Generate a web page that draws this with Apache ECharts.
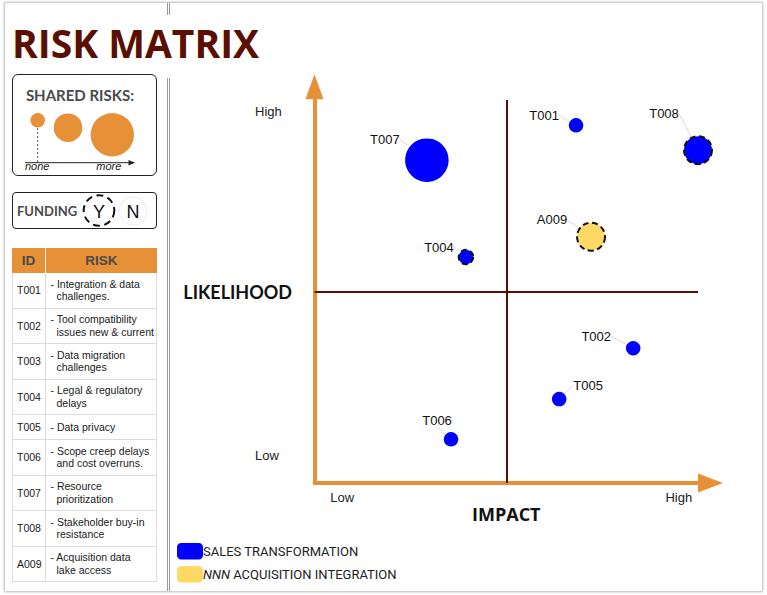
<!DOCTYPE html>
<html>
<head>
<meta charset="utf-8">
<script src="https://cdn.jsdelivr.net/npm/echarts@6/dist/echarts.min.js"></script>
<style>
html,body{margin:0;padding:0;background:#fff;}
#wrap{position:relative;width:767px;height:595px;overflow:hidden;background:#fff;}
.card{position:absolute;left:5px;top:3px;width:757px;height:588px;background:#fff;box-shadow:0 0 2px 1px rgba(0,0,0,0.28);}
.vline{position:absolute;left:167px;width:1px;border-left:1px solid #9a9a9a;border-right:1px solid #9a9a9a;}
#chart{position:absolute;left:0;top:0;width:767px;height:595px;}
.title{position:absolute;left:12px;top:22.5px;font:700 39px/39px 'Open Sans',sans-serif;color:#5b0f00;white-space:nowrap;}
.box{position:absolute;left:12px;width:145px;box-sizing:border-box;border:1px solid #222;border-radius:6px;}
.lbl{position:absolute;white-space:nowrap;font-family:Lato,sans-serif;font-weight:700;color:#4a4a4a;}
#panel{position:absolute;left:0;top:0;width:170px;height:595px;}
#tbl{position:absolute;left:12px;top:248px;width:145px;font-family:'Liberation Sans',Arial,sans-serif;}
.row{position:absolute;left:0;width:145px;display:flex;box-sizing:border-box;}
.cid{width:34px;box-sizing:border-box;display:flex;align-items:center;}
.crisk{width:111px;box-sizing:border-box;display:flex;align-items:center;}
.hdr{background:#e69138;color:#4a4a4a;font-weight:700;font-size:13.5px;}
.hdr .cid{justify-content:center;border-right:1px solid #fff;}
.hdr .crisk{justify-content:center;}
.body .cid{border-left:1px solid #dcdcdc;border-right:1px solid #dcdcdc;border-bottom:1px solid #dcdcdc;padding-left:4px;font-size:10.5px;color:#1a1a1a;}
.body .crisk{border-right:1px solid #dcdcdc;border-bottom:1px solid #dcdcdc;font-size:10.5px;color:#1a1a1a;}
.txt{white-space:pre;padding-left:10.5px;text-indent:-6px;line-height:12.7px;}
</style>
</head>
<body>
<div id="wrap">
  <div class="card"></div>
  <div class="vline" style="top:3px;height:12px;"></div>
  <div class="vline" style="top:78px;height:513px;"></div>
  <div id="chart"></div>
  <div id="panel">
    <div class="title">RISK MATRIX</div>
    <div class="box" style="top:74px;height:102px;"></div>
    <div class="lbl" style="left:0;width:160px;text-align:center;top:88px;font-size:15px;line-height:15px;">SHARED RISKS:</div>
    <div class="box" style="top:192px;height:37px;border-radius:4px;"></div>
    <div class="lbl" style="left:17px;top:204.5px;font-size:13px;line-height:13px;">FUNDING</div>
    <svg width="170" height="595" style="position:absolute;left:0;top:0;">
      <circle cx="37.7" cy="120.3" r="7.3" fill="#e69138"/>
      <circle cx="68" cy="127.7" r="14.3" fill="#e69138"/>
      <circle cx="112.3" cy="134.7" r="21.7" fill="#e69138"/>
      <line x1="37.7" y1="128" x2="37.7" y2="162.7" stroke="#555" stroke-width="1" stroke-dasharray="2 2"/>
      <line x1="25" y1="162.7" x2="131" y2="162.7" stroke="#222" stroke-width="1"/>
      <polygon points="128.5,160 135,162.7 128.5,165.4" fill="#222"/>
      <text x="25" y="170" font-family="Liberation Sans, Arial" font-style="italic" font-size="11" fill="#222">none</text>
      <text x="96.3" y="170" font-family="Liberation Sans, Arial" font-style="italic" font-size="11" fill="#222">more</text>
      <circle cx="99" cy="210.5" r="15.3" fill="none" stroke="#111" stroke-width="2" stroke-dasharray="7 4.5"/>
      <text x="99" y="217.5" text-anchor="middle" font-family="Liberation Sans, Arial" font-size="18" fill="#111">Y</text>
      <circle cx="133" cy="211" r="14" fill="none" stroke="#ececec" stroke-width="1"/>
      <text x="133" y="217.5" text-anchor="middle" font-family="Liberation Sans, Arial" font-size="18" fill="#111">N</text>
    </svg>
    <div id="tbl"></div>
  </div>
</div>
<script>
// ---- Risk register (table) ----
const tableIds = ['T001','T002','T003','T004','T005','T006','T007','T008','A009'];
const tableRisks = [
  '- Integration & data\nchallenges.',
  '- Tool compatibility\nissues new & current',
  '- Data migration\nchallenges',
  '- Legal & regulatory\ndelays',
  '- Data privacy',
  '- Scope creep delays\nand cost overruns.',
  '- Resource\nprioritization',
  '- Stakeholder buy-in\nresistance',
  '- Acquisition data\nlake access'
];
const tableHeader = ['ID', 'RISK'];

// ---- Plotted risks: SALES TRANSFORMATION ----
const salesIds        = ['T001','T002','T004','T005','T006','T007','T008'];
const salesImpact     = [6.82, 8.31, 3.95, 6.38, 3.56, 2.93, 10.0];
const salesLikelihood = [9.34, 3.52, 5.90, 2.19, 1.14, 8.43, 8.69];
const salesShared     = [0, 0, 0, 0, 0, 2, 1];   // 0 = none ... 2 = more
const salesFunded     = [0, 0, 1, 0, 0, 0, 1];   // 1 = Y

// ---- Plotted risks: NNN ACQUISITION INTEGRATION ----
const acqIds        = ['A009'];
const acqImpact     = [7.21];
const acqLikelihood = [6.43];
const acqShared     = [1];
const acqFunded     = [1];

const seriesNames = ['SALES TRANSFORMATION', 'NNN ACQUISITION INTEGRATION'];

// quadrant split + axis tick labels
const impactMid = 5, likelihoodMid = 5;
const xTickValues = [0.72, 9.5];  const xTickLabels = ['Low', 'High'];
const yTickValues = [0.72, 9.7];  const yTickLabels = ['Low', 'High'];

// ---- build HTML table ----
(function(){
  const tbl = document.getElementById('tbl');
  let y = 0;
  const hdr = document.createElement('div');
  hdr.className = 'row hdr'; hdr.style.top = '0px'; hdr.style.height = '25px';
  hdr.innerHTML = '<div class="cid">'+tableHeader[0]+'</div><div class="crisk">'+tableHeader[1]+'</div>';
  tbl.appendChild(hdr);
  y = 25;
  tableIds.forEach((id, i) => {
    const lines = tableRisks[i].split('\n').length;
    const h = lines > 1 ? 35.5 : 25;
    const r = document.createElement('div');
    r.className = 'row body'; r.style.top = y + 'px'; r.style.height = h + 'px';
    const c1 = document.createElement('div'); c1.className = 'cid'; c1.textContent = id;
    const c2 = document.createElement('div'); c2.className = 'crisk';
    const t = document.createElement('div'); t.className = 'txt'; t.textContent = tableRisks[i];
    c2.appendChild(t);
    r.appendChild(c1); r.appendChild(c2);
    tbl.appendChild(r);
    y += h;
  });
})();

// ---- chart ----
const sizeByShared = [14.5, 28, 43.5];
const labelShift = {T001:[-32,-10], T002:[-37,-12], T004:[-27,-10], T005:[29,-14], T006:[-14,-19], T007:[-42,-21], T008:[-34,-37], A009:[-39,-17]};

function buildData(ids, impact, likelihood, shared, funded) {
  return ids.map((id, i) => ({
    name: id,
    value: [impact[i], likelihood[i]],
    symbolSize: sizeByShared[shared[i]],
    itemStyle: funded[i]
      ? {borderColor: '#111', borderWidth: 2, borderType: [6, 3.5]}
      : {borderWidth: 0}
  }));
}

const labelCfg = {
  show: true, position: 'inside', formatter: '{b}',
  color: '#111', fontFamily: 'Liberation Sans, Arial', fontSize: 13,
  textBorderWidth: 0
};
const labelLineCfg = {show: true, lineStyle: {color: '#f5d0d0', width: 1}};
function layoutFn(p) {
  const off = labelShift[p.text] || [-30, -12];
  return {
    x: p.rect.x + p.rect.width / 2 + off[0],
    y: p.rect.y + p.rect.height / 2 + off[1],
    align: 'center', verticalAlign: 'middle'
  };
}

const chart = echarts.init(document.getElementById('chart'), null, {renderer: 'svg'});
chart.setOption({
  animation: false,
  backgroundColor: 'transparent',
  grid: [
    {left: 314.5, right: 69, top: 100, bottom: 112},
    {left: 314.5, right: 56.5, top: 86.75, bottom: 112}
  ],
  legend: {
    orient: 'vertical', left: 177, top: 543, padding: 0,
    itemWidth: 26, itemHeight: 16.5, itemGap: 6.5, icon: 'roundRect',
    data: seriesNames,
    textStyle: {fontFamily: 'Roboto', fontSize: 13, color: '#222', padding: [0, 0, 0, -5],
      rich: {i: {fontFamily: 'Roboto', fontSize: 13, fontStyle: 'italic', color: '#222'}}},
    formatter: function (name) {
      if (name.indexOf('NNN ') === 0) return '{i|NNN} ' + name.slice(4);
      return name;
    }
  },
  xAxis: [
    {
      gridIndex: 0, type: 'value', min: 0, max: 10,
      name: 'IMPACT', nameLocation: 'middle', nameGap: 22, nameMoveOverlap: false,
      nameTextStyle: {fontFamily: 'Open Sans', fontWeight: 'bold', fontSize: 18, color: '#111'},
      axisLine: {show: false}, axisTick: {show: false}, splitLine: {show: false},
      axisLabel: {
        customValues: xTickValues,
        formatter: v => xTickLabels[xTickValues.indexOf(v)],
        margin: 8, color: '#222', fontSize: 13, fontFamily: 'Liberation Sans, Arial'
      }
    },
    {
      gridIndex: 1, type: 'value', min: 0, max: 1,
      axisLine: {show: true, symbol: ['none', 'triangle'], symbolSize: [19, 25],
        lineStyle: {color: '#e69138', width: 4}},
      axisTick: {show: false}, axisLabel: {show: false}, splitLine: {show: false}
    }
  ],
  yAxis: [
    {
      gridIndex: 0, type: 'value', min: 0, max: 10,
      name: 'LIKELIHOOD', nameLocation: 'middle', nameRotate: 0, nameGap: 22.5, nameMoveOverlap: false,
      nameTextStyle: {fontFamily: 'Lato', fontWeight: 'bold', fontSize: 18, color: '#111', align: 'right'},
      axisLine: {show: false}, axisTick: {show: false}, splitLine: {show: false},
      axisLabel: {
        customValues: yTickValues,
        formatter: v => yTickLabels[yTickValues.indexOf(v)],
        align: 'left', margin: 59.5, color: '#222', fontSize: 13, fontFamily: 'Liberation Sans, Arial'
      }
    },
    {
      gridIndex: 1, type: 'value', min: 0, max: 1,
      axisLine: {show: true, symbol: ['none', 'triangle'], symbolSize: [18, 25],
        lineStyle: {color: '#e69138', width: 4}},
      axisTick: {show: false}, axisLabel: {show: false}, splitLine: {show: false}
    }
  ],
  series: [
    {
      name: seriesNames[0], type: 'scatter', xAxisIndex: 0, yAxisIndex: 0, z: 5,
      itemStyle: {color: '#0000ff', opacity: 1},
      data: buildData(salesIds, salesImpact, salesLikelihood, salesShared, salesFunded),
      label: labelCfg, labelLine: labelLineCfg, labelLayout: layoutFn,
      markLine: {
        silent: true, symbol: 'none', z: 1,
        label: {show: false},
        lineStyle: {color: '#5b0f00', width: 2, type: 'solid'},
        data: [{xAxis: impactMid}, {yAxis: likelihoodMid}]
      }
    },
    {
      name: seriesNames[1], type: 'scatter', xAxisIndex: 0, yAxisIndex: 0, z: 5,
      itemStyle: {color: '#ffd966', opacity: 1},
      data: buildData(acqIds, acqImpact, acqLikelihood, acqShared, acqFunded),
      label: labelCfg, labelLine: labelLineCfg, labelLayout: layoutFn
    }
  ]
});
</script>
</body>
</html>
